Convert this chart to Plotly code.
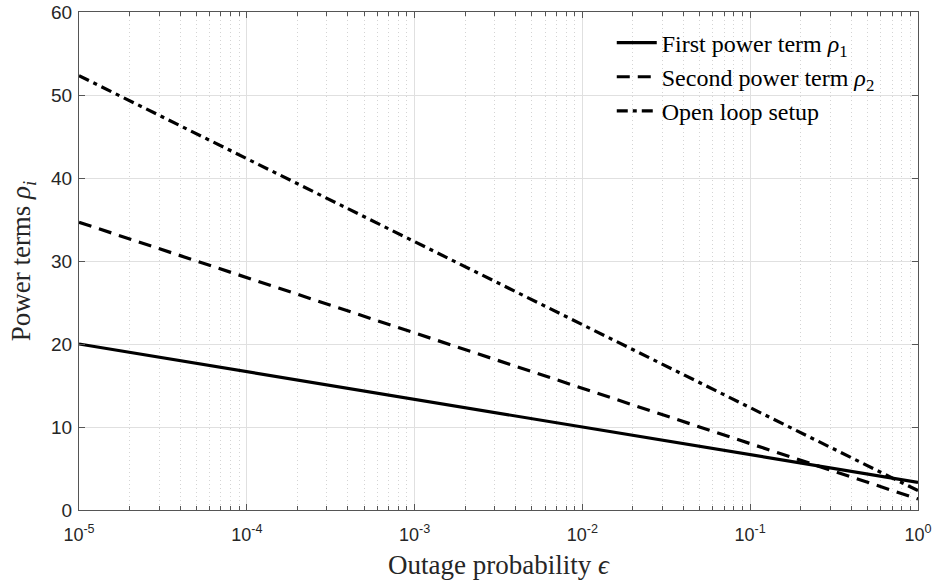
import plotly.graph_objects as go

eps = [1e-5, 1e-4, 1e-3, 1e-2, 1e-1, 1e0]
rho1 = [20.0, 16.67, 13.33, 10.0, 6.67, 3.33]
rho2 = [34.67, 28.0, 21.33, 14.67, 8.0, 1.33]
open_loop = [52.33, 42.33, 32.33, 22.33, 12.33, 2.33]

xtick_vals = [1e-5, 1e-4, 1e-3, 1e-2, 1e-1, 1e0]
xtick_text = ["10<sup>-5</sup>", "10<sup>-4</sup>", "10<sup>-3</sup>", "10<sup>-2</sup>", "10<sup>-1</sup>", "10<sup>0</sup>"]
ytick_vals = [0, 10, 20, 30, 40, 50, 60]

serif = "Liberation Serif"
sans = "Liberation Sans"

fig = go.Figure()
fig.add_trace(go.Scatter(x=eps, y=rho1, mode="lines",
                         name="First power term <i>ρ</i><sub>1</sub>",
                         line=dict(color="black", width=3.2, dash="solid")))
fig.add_trace(go.Scatter(x=eps, y=rho2, mode="lines",
                         name="Second power term <i>ρ</i><sub>2</sub>",
                         line=dict(color="black", width=3.2, dash="13px,8px")))
fig.add_trace(go.Scatter(x=eps, y=open_loop, mode="lines",
                         name="Open loop setup",
                         line=dict(color="black", width=3.2, dash="11px,5px,4px,5px")))

axcol = "#555555"
fig.update_layout(
    width=933, height=584,
    margin=dict(l=79, r=15, t=12, b=74, autoexpand=False),
    plot_bgcolor="white", paper_bgcolor="white",
    showlegend=True,
    legend=dict(x=0.635, y=0.983, xanchor="left", yanchor="top",
                bgcolor="rgba(0,0,0,0)", borderwidth=0,
                font=dict(family=serif, size=24, color="black"),
                tracegroupgap=0, itemwidth=40),
    xaxis=dict(type="log", range=[-5, 0], automargin=False,
               tickvals=xtick_vals, ticktext=xtick_text,
               ticks="inside", ticklen=6, tickcolor=axcol,
               showline=True, linecolor=axcol, linewidth=1, mirror="allticks",
               showgrid=True, gridcolor="#e0e0e0", gridwidth=1,
               zeroline=False, ticklabelstandoff=8,
               tickfont=dict(family=sans, size=18, color="#262626"),
               minor=dict(dtick="D1", ticks="inside", ticklen=4, tickcolor=axcol,
                          showgrid=True, gridcolor="#d4d4d4", griddash="1px,3px", gridwidth=1),
               title=dict(text="Outage probability <i>ϵ</i>",
                          font=dict(family=serif, size=27, color="#262626"), standoff=11)),
    yaxis=dict(range=[0, 60], tickvals=ytick_vals, automargin=False,
               ticks="inside", ticklen=6, tickcolor=axcol,
               showline=True, linecolor=axcol, linewidth=1, mirror="allticks",
               showgrid=True, gridcolor="#e0e0e0", gridwidth=1,
               zeroline=False, ticklabelstandoff=2,
               tickfont=dict(family=sans, size=19, color="#262626"),
               title=dict(text="Power terms <i>ρ</i><sub><i>i</i></sub>",
                          font=dict(family=serif, size=27, color="#262626"), standoff=12)),
)

fig.write_html("out.html", post_script="document.body.style.margin='0px';",
               config={"displayModeBar": False})
